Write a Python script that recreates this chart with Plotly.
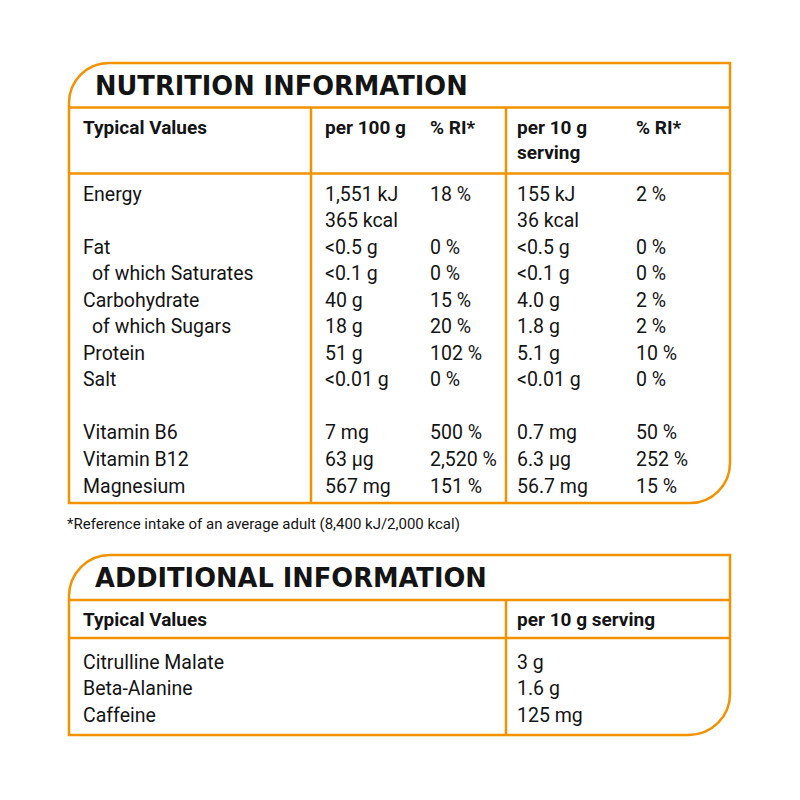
import plotly.graph_objects as go

# ---------------- data ----------------
title_main = "NUTRITION INFORMATION"
title_add = "ADDITIONAL INFORMATION"
header_cols = ["Typical Values", "per 100 g", "% RI*", "per 10 g", "% RI*"]
header_serving = "serving"

nutrients = ["Energy", "", "Fat", "  of which Saturates", "Carbohydrate", "  of which Sugars",
             "Protein", "Salt", "", "Vitamin B6", "Vitamin B12", "Magnesium"]
per100 = ["1,551 kJ", "365 kcal", "<0.5 g", "<0.1 g", "40 g", "18 g", "51 g", "<0.01 g",
          "", "7 mg", "63 µg", "567 mg"]
ri100 = ["18 %", "", "0 %", "0 %", "15 %", "20 %", "102 %", "0 %", "", "500 %", "2,520 %", "151 %"]
per10 = ["155 kJ", "36 kcal", "<0.5 g", "<0.1 g", "4.0 g", "1.8 g", "5.1 g", "<0.01 g",
         "", "0.7 mg", "6.3 µg", "56.7 mg"]
ri10 = ["2 %", "", "0 %", "0 %", "2 %", "2 %", "10 %", "0 %", "", "50 %", "252 %", "15 %"]
footnote = "*Reference intake of an average adult (8,400 kJ/2,000 kcal)"

add_header = ["Typical Values", "per 10 g serving"]
add_items = ["Citrulline Malate", "Beta-Alanine", "Caffeine"]
add_values = ["3 g", "1.6 g", "125 mg"]

# ---------------- style ----------------
ORANGE = "#F39200"
LW = 2.5
BODY = "Roboto, DejaVu Sans Condensed, sans-serif"
TITLE = "DejaVu Sans, Verdana, sans-serif"
BODY_SIZE = 19.5
HEAD_SIZE = 19

fig = go.Figure()
shapes = []
ann = []

def rounded_box(x0, y0, x1, y1, r):
    k = 0.5523 * r
    path = (f"M {x0},{y1} L {x0},{y0 + r} "
            f"C {x0},{y0 + r - k} {x0 + r - k},{y0} {x0 + r},{y0} "
            f"L {x1},{y0} L {x1},{y1 - r} "
            f"C {x1},{y1 - r + k} {x1 - r + k},{y1} {x1 - r},{y1} Z")
    return dict(type="path", path=path, line=dict(color=ORANGE, width=LW),
                xref="x", yref="y", layer="above")

def hline(y, x0, x1):
    return dict(type="line", x0=x0, x1=x1, y0=y, y1=y, xref="x", yref="y",
                line=dict(color=ORANGE, width=LW), layer="above")

def vline(x, y0, y1):
    return dict(type="line", x0=x, x1=x, y0=y0, y1=y1, xref="x", yref="y",
                line=dict(color=ORANGE, width=LW), layer="above")

def text(x, y, s, size=BODY_SIZE, bold=False, family=BODY):
    if s == "":
        return
    t = f"<b>{s}</b>" if bold else s
    ann.append(dict(x=x, y=y, xref="x", yref="y", text=t,
                    showarrow=False, xanchor="left", yanchor="middle",
                    font=dict(family=family, size=size, color="#141414")))

# layout geometry
L, R = 69, 730
T1, B1 = 63, 503
T2, B2 = 555, 735
C1, C2 = 311, 506
shapes.append(rounded_box(L, T1, R, B1, 40))
shapes += [hline(107.5, L, R), hline(173.5, L, R), vline(C1, 107.5, B1), vline(C2, 107.5, B1)]
shapes.append(rounded_box(L, T2, R, B2, 41))
shapes += [hline(600, L, R), hline(638, L, R), vline(C2, 600, B2)]

# titles
text(93, 86, title_main, size=25.7, bold=True, family=TITLE)
text(93, 578, title_add, size=25.7, bold=True, family=TITLE)

# headers
colx = [81, 323, 428, 515, 634]
for x, h in zip(colx, header_cols):
    text(x, 127, h, size=HEAD_SIZE, bold=True)
text(colx[3], 152, header_serving, size=HEAD_SIZE, bold=True)

# rows
row0, step = 194, 26.55
for i in range(len(nutrients)):
    y = row0 + i * step
    name = nutrients[i]
    if name.startswith("  "):
        text(90, y, name.strip())
    else:
        text(colx[0], y, name)
    text(colx[1], y, per100[i])
    text(colx[2], y, ri100[i])
    text(colx[3], y, per10[i])
    text(colx[4], y, ri10[i])

text(65, 524, footnote, size=15)

# additional info
text(colx[0], 619, add_header[0], size=HEAD_SIZE, bold=True)
text(colx[3], 619, add_header[1], size=HEAD_SIZE, bold=True)
for i, (n, v) in enumerate(zip(add_items, add_values)):
    y = 662 + i * 26.6
    text(colx[0], y, n)
    text(colx[3], y, v)

# the page body has an 8px margin; the plot spans page pixels 8..792
OFF = 8
fig.update_layout(
    width=800 - 2 * OFF, height=800 - 2 * OFF,
    margin=dict(l=0, r=0, t=0, b=0),
    paper_bgcolor="white", plot_bgcolor="white",
    xaxis=dict(range=[OFF, 800 - OFF], visible=False, fixedrange=True),
    yaxis=dict(range=[800 - OFF, OFF], visible=False, fixedrange=True),
    shapes=shapes, annotations=ann, showlegend=False,
)
fig.write_html("out.html")
